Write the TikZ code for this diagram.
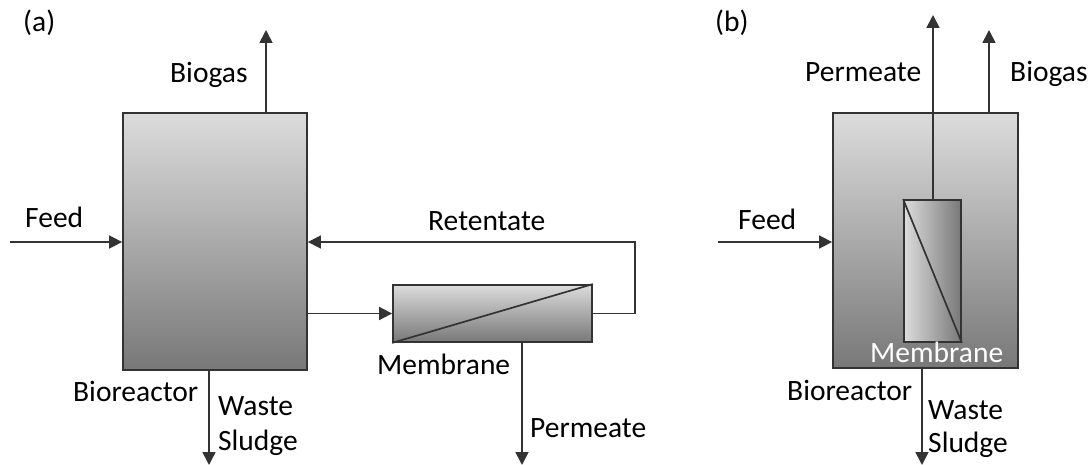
\documentclass[tikz,border=0pt]{standalone}
\usepackage{fontspec}
\setmainfont{Carlito}
\usetikzlibrary{arrows.meta}
\definecolor{lineC}{HTML}{333333}
\definecolor{lightG}{HTML}{DCDCDC}
\definecolor{darkG}{HTML}{787878}
\tikzset{
  vessel/.style={draw=lineC, line width=1.8pt, inner sep=0pt, top color=lightG, bottom color=darkG},
  memvert/.style={draw=lineC, line width=1.8pt, inner sep=0pt, left color=lightG, right color=darkG},
  flow/.style={draw=lineC, line width=1.7pt, -{Triangle[length=13pt,width=13pt]}},
  lbl/.style={anchor=base west, inner sep=0pt, font=\fontsize{29.5}{34}\selectfont, text=black},
}
\begin{document}
\begin{tikzpicture}[x=1pt,y=-1pt]
\useasboundingbox (0,0) rectangle (1090,465);

% ---------- (a) ----------
\node[lbl] (la) at (23,32) {(a)};
\node[vessel, minimum width=184pt, minimum height=257pt] (bioA) at (215,241.5) {};
\node[vessel, minimum width=199pt, minimum height=57pt] (memA) at (492.5,313.5) {};
\draw[lineC, line width=1.7pt] (memA.south west) -- (memA.north east);

\coordinate (bgA) at (266,30);
\draw[flow] (bgA |- bioA.north) -- (bgA);
\node[lbl] (tbgA) at (170,83) {Biogas};

\coordinate (feedA) at (10,242);
\draw[flow] (feedA) -- (feedA -| bioA.west);
\node[lbl] (tfeedA) at (25,228) {Feed};

\draw[flow] (bioA.east |- memA.west) -- (memA.west);

\coordinate (retC) at (635,242);
\draw[flow] (memA.east) -| (retC) -- (retC -| bioA.east);
\node[lbl] (tret) at (428,231) {Retentate};

\coordinate (permA) at (522,465);
\draw[flow] (permA |- memA.south) -- (permA);
\node[lbl] (tmemA) at (377,374) {Membrane};
\node[lbl] (tpermA) at (530,437) {Permeate};

\coordinate (wA) at (209,465);
\draw[flow] (wA |- bioA.south) -- (wA);
\node[lbl] (tbioA) at (73,401) {Bioreactor};
\node[lbl] (twA) at (218,415) {Waste};
\node[lbl] (tsA) at (218,450) {Sludge};

% ---------- (b) ----------
\node[lbl] (lb) at (715,32) {(b)};
\node[vessel, minimum width=185pt, minimum height=255pt] (bioB) at (925.5,240.5) {};
\node[memvert, minimum width=57pt, minimum height=142pt] (memB) at (932.5,271) {};
\draw[lineC, line width=1.7pt] (memB.north west) -- (memB.south east);
\node[lbl, text=white] (tmemB) at (870,362) {Membrane};

\coordinate (permB) at (933,15);
\draw[flow] (permB |- memB.north) -- (permB);
\node[lbl] (tpermB) at (805,82) {Permeate};

\coordinate (bgB) at (989,30);
\draw[flow] (bgB |- bioB.north) -- (bgB);
\node[lbl] (tbgB) at (1010,82) {Biogas};

\coordinate (feedB) at (718,242);
\draw[flow] (feedB) -- (feedB -| bioB.west);
\node[lbl] (tfeedB) at (738,230) {Feed};

\coordinate (wB) at (922,465);
\draw[flow] (wB |- bioB.south) -- (wB);
\node[lbl] (tbioB) at (787,400) {Bioreactor};
\node[lbl] (twB) at (928,419) {Waste};
\node[lbl] (tsB) at (928,452) {Sludge};
\end{tikzpicture}
\end{document}
